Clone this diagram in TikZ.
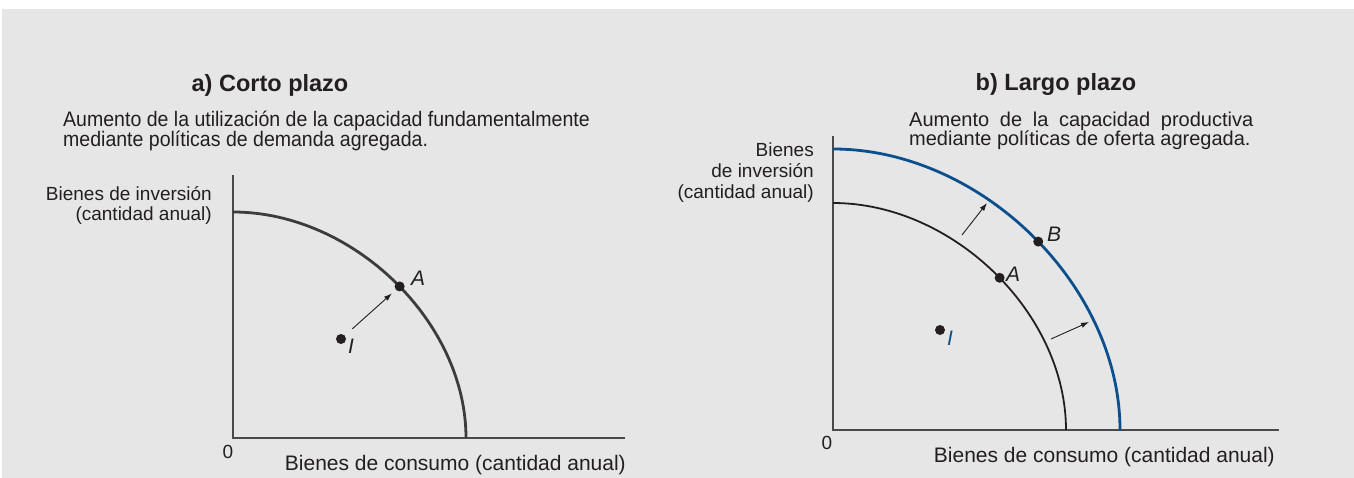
\documentclass[tikz,border=0pt]{standalone}
\usepackage{fontspec}
\setmainfont{Liberation Sans}
\newfontfamily\narrowfont[FakeStretch=0.93]{Liberation Sans}
\usetikzlibrary{arrows.meta}
\definecolor{fondo}{HTML}{E6E6E6}
\definecolor{azul}{HTML}{0B4F8C}
\definecolor{tinta}{HTML}{231F20}
\definecolor{curvagris}{HTML}{3C3C3C}
\definecolor{ejegris}{HTML}{4A4A4A}
\newcommand\apretado{\lineskiplimit-20pt\relax}

\begin{document}
\begin{tikzpicture}[x=1pt, y=-1pt, >={Latex[length=8pt,width=5.5pt]},
	every node/.style={text=tinta, inner sep=0pt},
	ax/.style={ejegris, line width=1.8pt},
	punto/.style={circle, fill=tinta, minimum size=10pt},
	flecha/.style={->, tinta, line width=0.9pt},
	lab/.style={font=\fontsize{21}{21}\selectfont\itshape},
	titulo/.style={font=\fontsize{23.5}{24}\selectfont\bfseries, anchor=base},
	eje/.style={font=\fontsize{21}{21}\selectfont, anchor=base east},
	cero/.style={font=\fontsize{19}{19}\selectfont, anchor=base}]
	\fill[white] (0,0) rectangle (1354,478);
	\fill[fondo] (2,9) rectangle (1354,478);
	\useasboundingbox (0,0) rectangle (1354,478);
	% a) corto plazo
	\coordinate (Oa) at (233,438);
	\coordinate (Ya) at (233,175);
	\coordinate (Xa) at (625,438);
	\draw[ax] (Ya) -- (Oa) -- (Xa);
	\draw[curvagris, line width=2.8pt] (233,212) .. controls (353,212) and (466,321.6) .. (466,438) node[punto, pos=0.52] (Aa) {};
	\node[punto] (Ia) at (341,339) {};
	\draw[flecha, shorten <=10pt, shorten >=4pt] (Ia) -- (Aa);
	\node[lab, anchor=west] (lAa) at (411,278) {A};
	\node[lab] (lIa) at (351,346) {I};
	\node[titulo] (ta) at (270,92) {a) Corto plazo};
	\node[font=\narrowfont\fontsize{21}{20}\selectfont\apretado, align=left, anchor=base west] (sa) at (63,147) {Aumento de la utilización de la capacidad fundamentalmente\\mediante políticas de demanda agregada.};
	\node[font=\fontsize{19}{20}\selectfont\apretado, align=right, anchor=base east] (ya) at (212,221) {Bienes de inversión\\(cantidad anual)};
	\node[eje] (xa) at (626,470) {Bienes de consumo (cantidad anual)};
	\node[cero] (za) at (228,458) {0};
	% b) largo plazo
	\coordinate (Ob) at (833,430);
	\coordinate (Yb) at (833,136);
	\coordinate (Xb) at (1279,430);
	\draw[ax] (Yb) -- (Ob) -- (Xb);
	\draw[tinta, line width=1.8pt] (833,203) .. controls (953,203) and (1066,313.1) .. (1066,430) node[punto, pos=0.52] (Ab) {};
	\draw[azul, line width=2.8pt] (833,149) .. controls (980.8,149) and (1120,285.3) .. (1120,430) node[punto, pos=0.52] (Bb) {};
	\node[punto] (Ib) at (940,330) {};
	\coordinate (u0) at (962,235);
	\coordinate (u1) at (987,203);
	\coordinate (d0) at (1051,339);
	\coordinate (d1) at (1089,322);
	\draw[flecha] (u0) -- (u1);
	\draw[flecha] (d0) -- (d1);
	\node[lab, anchor=west] (lAb) at (1006,274) {A};
	\node[lab, anchor=west] (lBb) at (1047,234) {B};
	\node[lab, text=azul] (lIb) at (950,338) {I};
	\node[titulo] (tb) at (1056,91) {b) Largo plazo};
	\node[font=\fontsize{20}{18.5}\selectfont\apretado, text width=344pt, align=justify, anchor=base west] (sb) at (909,127) {Aumento de la capacidad productiva mediante políticas de oferta agregada.};
	\node[font=\fontsize{19}{21}\selectfont\apretado, align=right, anchor=base east] (yb) at (814,199) {Bienes\\de inversión\\(cantidad anual)};
	\node[eje] (xb) at (1275,462) {Bienes de consumo (cantidad anual)};
	\node[cero] (zb) at (827,449) {0};
\end{tikzpicture}
\end{document}
